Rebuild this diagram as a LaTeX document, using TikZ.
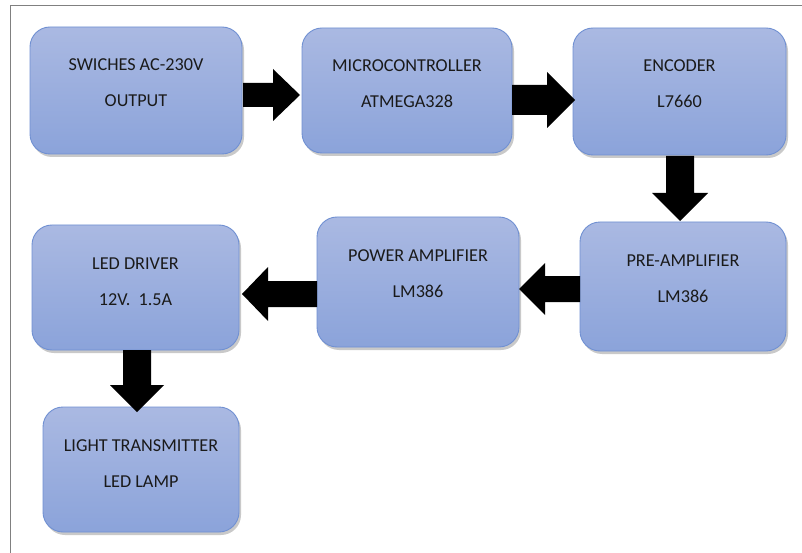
\documentclass[tikz,border=0pt]{standalone}
\usepackage{fontspec}
\setmainfont{Carlito}
\usetikzlibrary{shadows,calc}
\definecolor{boxtop}{HTML}{AAB9E2}
\definecolor{boxbot}{HTML}{8BA3DA}
\definecolor{boxline}{HTML}{7090D2}
\definecolor{framegray}{HTML}{808080}
\definecolor{txtcol}{HTML}{1A1A1A}
\tikzset{
  blockbox/.style={draw=boxline, line width=0.9pt, rounded corners=20pt,
    top color=boxtop, bottom color=boxbot,
    drop shadow={shadow xshift=2pt, shadow yshift=-3pt, opacity=0.35, fill=black!60}},
  boxtext/.style={font=\fontsize{18.2}{36}\selectfont, text=txtcol, align=center, anchor=base, inner sep=0pt},
  blockarrow/.style={fill=black}
}
\newcommand{\blockbox}[6]{% name, x1, y1, x2, y2, text
  \path[blockbox] (#2,#3) rectangle (#4,#5);
  \coordinate (#1) at ({(#2+#4)/2},{(#3+#5)/2});
  \node[boxtext] (#1-t) at ({(#2+#4)/2},{#3+80}) {#6};
}
% horizontal arrow: start x, tip x, y, shaft half, head half, head length
\newcommand{\harrow}[6]{%
  \fill[blockarrow] (#1,{#3-#4}) -- ({#2-#6},{#3-#4}) -- ({#2-#6},{#3-#5}) -- (#2,#3)
    -- ({#2-#6},{#3+#5}) -- ({#2-#6},{#3+#4}) -- (#1,{#3+#4}) -- cycle;}
\newcommand{\varrow}[6]{%
  \fill[blockarrow] ({#3-#4},#1) -- ({#3-#4},{#2-#6}) -- ({#3-#5},{#2-#6}) -- (#3,#2)
    -- ({#3+#5},{#2-#6}) -- ({#3+#4},{#2-#6}) -- ({#3+#4},#1) -- cycle;}
\begin{document}
\begin{tikzpicture}[x=1pt,y=-1pt]
\useasboundingbox (0,0) rectangle (802,553);
\fill[white] (0,0) rectangle (802,553);
\draw[framegray, line width=1.2pt] (10.5,553) -- (10.5,5.5) -- (802,5.5);
\blockbox{b1}{30}{27}{242}{154}{SWICHES AC-230V\\OUTPUT}
\blockbox{b2}{302}{28}{512}{153}{MICROCONTROLLER\\ATMEGA328}
\blockbox{b3}{573}{28}{786}{155}{ENCODER\\L7660}
\blockbox{b4}{580}{222}{786}{351}{PRE-AMPLIFIER\\LM386}
\blockbox{b5}{317}{217}{519}{347}{POWER AMPLIFIER\\LM386}
\blockbox{b6}{32}{225}{239}{350}{LED DRIVER\\12V.\ \ 1.5A}
\blockbox{b7}{43}{407}{239}{532}{LIGHT TRANSMITTER\\LED LAMP}
% arrows
\harrow{243}{300}{95}{12}{26}{27}
\harrow{512}{575}{100}{15}{28}{28}
\varrow{156}{221}{680}{14}{28}{28}
\harrow{580}{519}{289}{13}{26}{-26}
\harrow{317}{242}{294}{13}{27}{-26}
\varrow{350}{412}{137}{14}{27}{27}
\end{tikzpicture}
\end{document}
